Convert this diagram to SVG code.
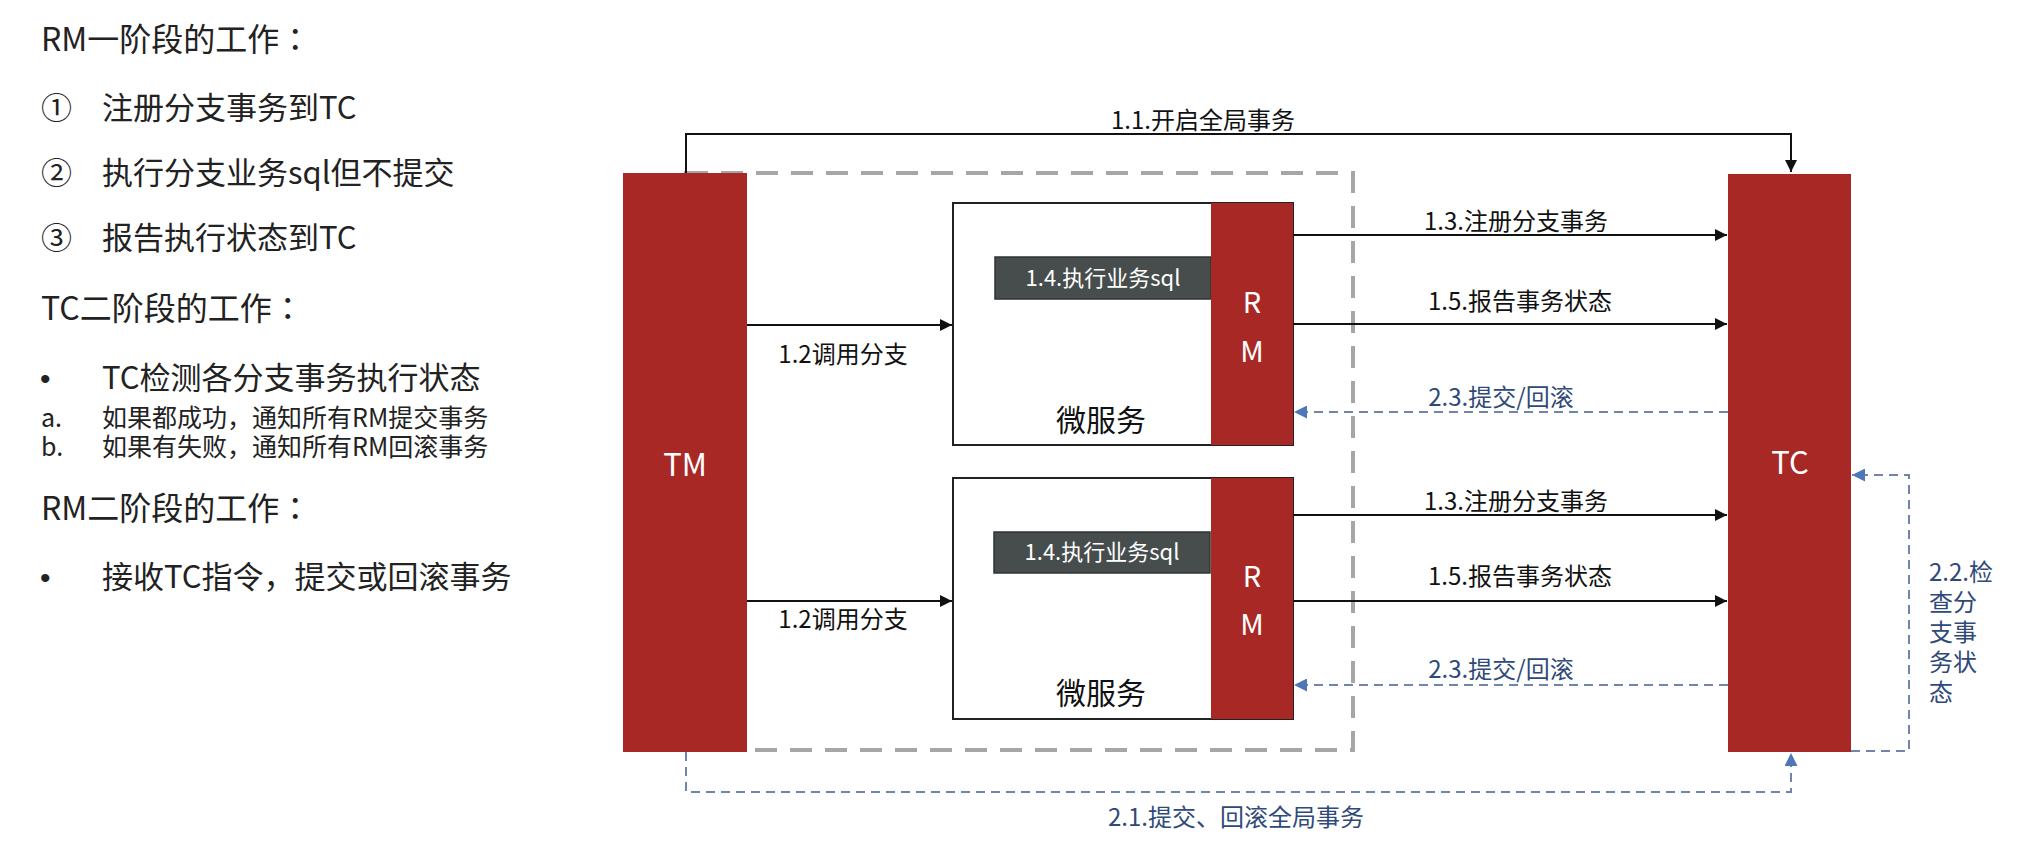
<svg xmlns="http://www.w3.org/2000/svg" width="2028" height="841" viewBox="0 0 2028 841">
<style>
text{font-family:"Noto Sans CJK SC","Liberation Sans",sans-serif;}
.side{font-size:31px;fill:#222;}
.hdr{font-size:32px;fill:#222;}
.col{font-family:"Noto Sans CJK TC","Liberation Sans",sans-serif;}
.bul{font-family:"Liberation Sans",sans-serif;font-size:30px;fill:#222;}
.sub{font-size:25px;fill:#222;}
.red{fill:#A82826;}
.wt{fill:#fff;text-anchor:middle;}
.lbl{font-size:24px;fill:#111;}
.blbl{font-size:24px;fill:#2F4A78;}
.ln{stroke:#111;stroke-width:2;fill:none;}
.bl{stroke:#6F86AA;stroke-width:2;stroke-dasharray:9 6;fill:none;}
.box{fill:#fff;stroke:#222;stroke-width:2;}
.dark{fill:#474D4D;stroke:#2E3333;stroke-width:1.5;}
</style>
<defs>
<marker id="ab" viewBox="0 0 12 12" refX="12" refY="6" markerWidth="12" markerHeight="12" markerUnits="userSpaceOnUse" orient="auto"><path d="M0,0 L12,6 L0,12 z" fill="#111"/></marker>
<marker id="abl" viewBox="0 0 12 12" refX="12" refY="6" markerWidth="13" markerHeight="13" markerUnits="userSpaceOnUse" orient="auto"><path d="M0,0 L12,6 L0,12 z" fill="#4F77B8"/></marker>
</defs>
<rect width="2028" height="841" fill="#fff"/>

<g id="notes">
<text class="hdr" x="41" y="51">RM一阶段的工作<tspan class="col">：</tspan></text>
<text class="side" x="41" y="119">①</text><text class="side" x="102" y="119">注册分支事务到TC</text>
<text class="side" x="41" y="184">②</text><text class="side" x="102" y="184">执行分支业务sql但不提交</text>
<text class="side" x="41" y="249">③</text><text class="side" x="102" y="249">报告执行状态到TC</text>
<text class="hdr" x="41" y="320">TC二阶段的工作<tspan class="col">：</tspan></text>
<text class="bul" x="40" y="389">•</text><text class="side" x="102" y="389">TC检测各分支事务执行状态</text>
<text class="sub"><tspan x="41" y="427">a.</tspan><tspan x="102" y="427">如果都成功，通知所有RM提交事务</tspan><tspan x="41" y="456">b.</tspan><tspan x="102" y="456">如果有失败，通知所有RM回滚事务</tspan></text>
<text class="hdr" x="41" y="520">RM二阶段的工作<tspan class="col">：</tspan></text>
<text class="bul" x="40" y="588">•</text><text class="side" x="102" y="588">接收TC指令，提交或回滚事务</text>
</g>

<g id="boundary">
<rect x="686" y="173" width="667" height="577" fill="none" stroke="#A6A6A6" stroke-width="4" stroke-dasharray="22 13"/>
</g>

<g id="ms1">
<rect class="box" x="953" y="203" width="340" height="242"/>
<text x="1101" y="431" font-size="30" fill="#111" text-anchor="middle">微服务</text>
<rect class="dark" x="995" y="257" width="216" height="42"/>
<text class="wt" x="1103" y="286" font-size="22">1.4.执行业务sql</text>
</g>
<g id="rm1">
<rect class="red" x="1211" y="203" width="82" height="242"/>
<text class="wt" x="1252" y="313" font-size="29">R</text>
<text class="wt" x="1252" y="362" font-size="29">M</text>
</g>

<g id="ms2">
<rect class="box" x="953" y="478" width="340" height="241"/>
<text x="1101" y="704" font-size="30" fill="#111" text-anchor="middle">微服务</text>
<rect class="dark" x="994" y="532" width="216" height="41"/>
<text class="wt" x="1102" y="560" font-size="22">1.4.执行业务sql</text>
</g>
<g id="rm2">
<rect class="red" x="1211" y="478" width="82" height="241"/>
<text class="wt" x="1252" y="587" font-size="29">R</text>
<text class="wt" x="1252" y="635" font-size="29">M</text>
</g>

<g id="tm">
<rect class="red" x="623" y="173" width="124" height="579"/>
<text class="wt" x="685" y="476" font-size="31">TM</text>
</g>

<g id="tc">
<rect class="red" x="1728" y="174" width="123" height="578"/>
<text class="wt" x="1790" y="474" font-size="31">TC</text>
</g>

<g id="connectors">
<path class="ln" d="M686,173 V134 H1791 V172" marker-end="url(#ab)"/>
<text class="lbl" x="1203" y="129" text-anchor="middle">1.1.开启全局事务</text>

<path class="ln" d="M747,325 H952" marker-end="url(#ab)"/>
<text class="lbl" x="843" y="363" text-anchor="middle">1.2调用分支</text>
<path class="ln" d="M747,601 H952" marker-end="url(#ab)"/>
<text class="lbl" x="843" y="628" text-anchor="middle">1.2调用分支</text>

<path class="ln" d="M1293,235 H1727" marker-end="url(#ab)"/>
<text class="lbl" x="1516" y="230" text-anchor="middle">1.3.注册分支事务</text>
<path class="ln" d="M1293,324 H1727" marker-end="url(#ab)"/>
<text class="lbl" x="1520" y="310" text-anchor="middle">1.5.报告事务状态</text>
<path class="bl" d="M1728,412 H1294" marker-end="url(#abl)"/>
<text class="blbl" x="1501" y="406" text-anchor="middle">2.3.提交/回滚</text>

<path class="ln" d="M1293,515 H1727" marker-end="url(#ab)"/>
<text class="lbl" x="1516" y="510" text-anchor="middle">1.3.注册分支事务</text>
<path class="ln" d="M1293,601 H1727" marker-end="url(#ab)"/>
<text class="lbl" x="1520" y="585" text-anchor="middle">1.5.报告事务状态</text>
<path class="bl" d="M1728,685 H1294" marker-end="url(#abl)"/>
<text class="blbl" x="1501" y="678" text-anchor="middle">2.3.提交/回滚</text>

<path class="bl" d="M686,752 V792 H1791 V753" marker-end="url(#abl)"/>
<text class="blbl" x="1236" y="826" text-anchor="middle">2.1.提交、回滚全局事务</text>

<path class="bl" d="M1851,751 H1909 V475 H1852" marker-end="url(#abl)"/>
<text class="blbl"><tspan x="1929" y="581">2.2.检</tspan><tspan x="1929" y="611">查分</tspan><tspan x="1929" y="641">支事</tspan><tspan x="1929" y="671">务状</tspan><tspan x="1929" y="701">态</tspan></text>
</g>
</svg>
